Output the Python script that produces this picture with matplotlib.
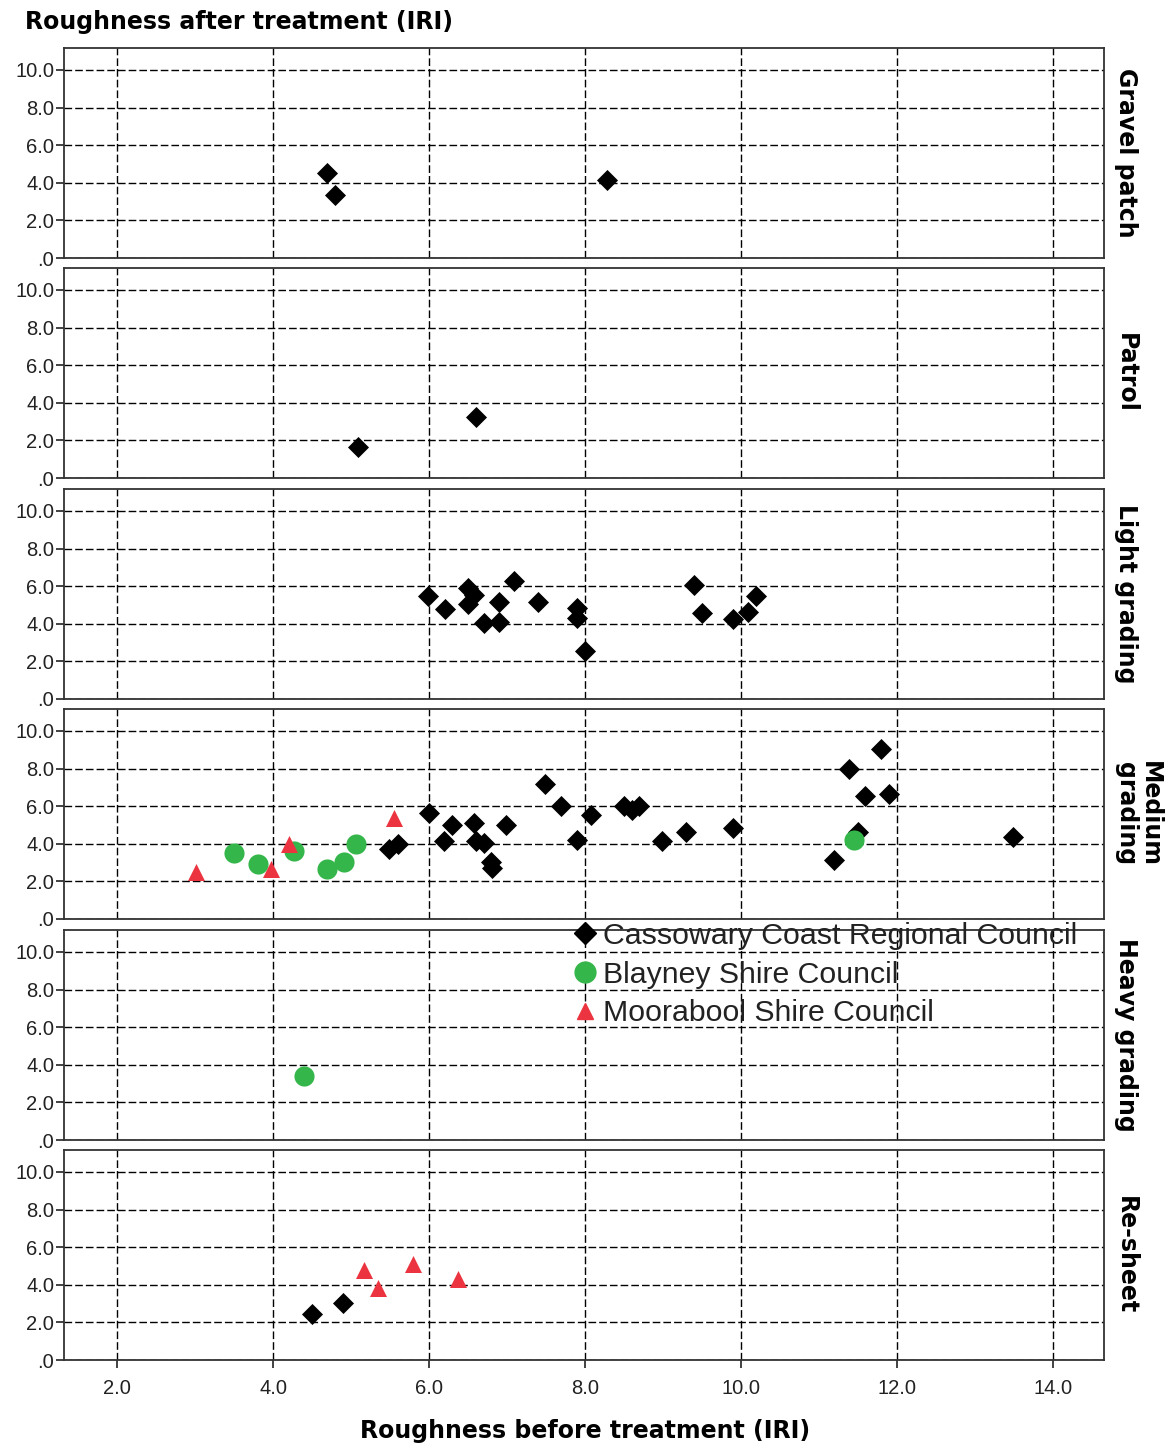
import matplotlib
matplotlib.use("Agg")
import matplotlib.pyplot as plt
from matplotlib.lines import Line2D
from matplotlib.ticker import FuncFormatter

# treatment panels, top to bottom
treatments = ["Gravel patch", "Patrol", "Light grading", "Medium\ngrading", "Heavy grading", "Re-sheet"]

# Cassowary Coast Regional Council
cass_treat = ([0] * 3 + [1] * 2 + [2] * 18 + [3] * 28 + [5] * 2)
cass_before = [4.69, 4.79, 8.28,
               5.09, 6.60,
               5.99, 6.20, 6.50, 6.58, 6.50, 6.70, 6.90, 6.90, 7.09, 7.40, 7.89, 7.89, 8.00,
               9.40, 9.50, 9.89, 10.09, 10.19,
               5.49, 5.60, 6.00, 6.19, 6.29, 6.58, 6.60, 6.70, 6.79, 6.80, 6.99, 7.49, 7.69,
               7.90, 8.08, 8.50, 8.60, 8.69, 8.99, 9.29, 9.89, 11.19, 11.38, 11.50, 11.59,
               11.79, 11.90, 13.49,
               4.50, 4.90]
cass_after = [4.52, 3.35, 4.15,
              1.65, 3.24,
              5.48, 4.77, 5.89, 5.53, 5.04, 4.06, 5.18, 4.11, 6.28, 5.14, 4.86, 4.33, 2.55,
              6.06, 4.56, 4.24, 4.65, 5.48,
              3.70, 3.97, 5.62, 4.15, 5.00, 5.09, 4.15, 4.06, 3.05, 2.69, 5.00, 7.16, 6.03,
              4.20, 5.53, 6.01, 5.80, 6.01, 4.15, 4.64, 4.86, 3.14, 7.96, 4.61, 6.56,
              9.04, 6.63, 4.35,
              2.45, 3.05]

# Blayney Shire Council
blay_treat = [3] * 7 + [4]
blay_before = [3.50, 3.81, 4.27, 4.69, 4.91, 5.06, 11.45, 4.40]
blay_after = [3.53, 2.93, 3.63, 2.64, 3.01, 3.97, 4.20, 3.40]

# Moorabool Shire Council
moor_treat = [3] * 4 + [5] * 4
moor_before = [3.01, 3.97, 4.20, 5.55, 5.17, 5.34, 5.79, 6.37]
moor_after = [2.52, 2.64, 3.97, 5.39, 4.79, 3.81, 5.10, 4.29]

x_ticks = [2, 4, 6, 8, 10, 12, 14]
y_ticks = [0, 2, 4, 6, 8, 10]

W, H = 1175, 1447
fig = plt.figure(figsize=(W / 100, H / 100), dpi=100)

green = "#35b64a"
red = "#ec3440"


def fmt(v, pos):
    return ".0" if v == 0 else "%.1f" % v


zero_px = [258, 478, 699, 919, 1140, 1360]
panel_h = 210
left_px, right_px = 64, 1104

for i, name in enumerate(treatments):
    ax = fig.add_axes([left_px / W, 1 - zero_px[i] / H, (right_px - left_px) / W, panel_h / H])
    ax.set_xlim(1.32, 14.65)
    ax.set_ylim(0, 11.17)
    ax.set_xticks(x_ticks)
    ax.set_yticks(y_ticks)
    ax.grid(True, color="black", linestyle=(0, (5.5, 2.2)), linewidth=1.0)
    ax.set_axisbelow(True)
    for s in ax.spines.values():
        s.set_color("#333333")
        s.set_linewidth(1.3)
    ax.yaxis.set_major_formatter(FuncFormatter(fmt))
    ax.xaxis.set_major_formatter(FuncFormatter(fmt))
    ax.tick_params(axis="y", direction="out", length=6, width=1.2, labelsize=14.5, pad=1, colors="#222222")
    if i == len(treatments) - 1:
        ax.tick_params(axis="x", direction="out", length=6, width=1.2, labelsize=14.5, pad=8, colors="#222222")
    else:
        ax.tick_params(axis="x", length=0, labelbottom=False)
    for lab in ax.get_xticklabels() + ax.get_yticklabels():
        lab.set_family("Liberation Sans")

    cx = [b for b, t in zip(cass_before, cass_treat) if t == i]
    cy = [a for a, t in zip(cass_after, cass_treat) if t == i]
    bx = [b for b, t in zip(blay_before, blay_treat) if t == i]
    by = [a for a, t in zip(blay_after, blay_treat) if t == i]
    mx = [b for b, t in zip(moor_before, moor_treat) if t == i]
    my = [a for a, t in zip(moor_after, moor_treat) if t == i]
    ax.scatter(cx, cy, marker="D", s=115, color="black", linewidths=0, zorder=3)
    ax.scatter(bx, by, marker="o", s=210, color=green, linewidths=0, zorder=4)
    ax.scatter(mx, my, marker="^", s=150, color=red, linewidths=0, zorder=5)

    fig.text(1114 / W, 1 - (zero_px[i] - panel_h / 2) / H, name, rotation=270,
             ha="left", va="center", multialignment="center",
             fontsize=17, fontweight="bold", family="DejaVu Sans", linespacing=1.0)

fig.text(25 / W, 1 - 22 / H, "Roughness after treatment (IRI)", ha="left", va="center",
         fontsize=17, fontweight="bold", family="DejaVu Sans")
fig.text(585 / W, 1 - 1431 / H, "Roughness before treatment (IRI)", ha="center", va="center",
         fontsize=17, fontweight="bold", family="DejaVu Sans")

handles = [
    Line2D([], [], marker="D", linestyle="none", color="black", markersize=11),
    Line2D([], [], marker="o", linestyle="none", color=green, markersize=15),
    Line2D([], [], marker="^", linestyle="none", color=red, markersize=12),
]
labels = ["Cassowary Coast Regional Council", "Blayney Shire Council", "Moorabool Shire Council"]
leg = fig.legend(handles, labels, loc="upper left", bbox_to_anchor=(576 / W, 1 - 922 / H),
                 frameon=False, handlelength=0.6, handletextpad=0.3, borderpad=0,
                 borderaxespad=0, labelspacing=0.35,
                 prop={"family": "Liberation Sans", "size": 21.8})
for t in leg.get_texts():
    t.set_color("#222222")

fig.savefig("out.png", dpi=100)
